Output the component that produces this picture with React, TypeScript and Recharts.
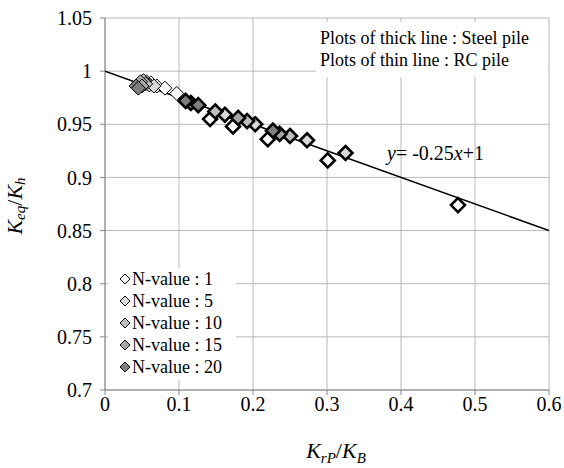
import React from 'react';
import { ScatterChart, Scatter, XAxis, YAxis, CartesianGrid } from 'recharts';

// x = KrP/KB, y = Keq/Kh ; thick outline = steel pile, thin outline = RC pile
const steelN1 = [
  { x: 0.142, y: 0.955 }, { x: 0.173, y: 0.948 }, { x: 0.22, y: 0.936 },
  { x: 0.301, y: 0.916 }, { x: 0.477, y: 0.874 },
];
const steelN5 = [
  { x: 0.162, y: 0.959 }, { x: 0.203, y: 0.95 }, { x: 0.273, y: 0.935 }, { x: 0.325, y: 0.923 },
];
const steelN10 = [{ x: 0.149, y: 0.962 }, { x: 0.192, y: 0.953 }, { x: 0.25, y: 0.939 }];
const steelN15 = [{ x: 0.116, y: 0.97 }, { x: 0.18, y: 0.956 }, { x: 0.236, y: 0.941 }];
const steelN20 = [{ x: 0.109, y: 0.972 }, { x: 0.126, y: 0.968 }, { x: 0.227, y: 0.944 }];

const rcN1 = [{ x: 0.062, y: 0.989 }, { x: 0.07, y: 0.986 }, { x: 0.081, y: 0.984 }, { x: 0.097, y: 0.979 }];
const rcN5 = [{ x: 0.056, y: 0.99 }, { x: 0.06, y: 0.987 }, { x: 0.066, y: 0.986 }];
const rcN10 = [{ x: 0.052, y: 0.991 }, { x: 0.055, y: 0.988 }];
const rcN15 = [{ x: 0.048, y: 0.99 }, { x: 0.05, y: 0.986 }];
const rcN20 = [{ x: 0.042, y: 0.986 }, { x: 0.045, y: 0.984 }];

// y = -0.25x + 1
const trendLine = [{ x: 0, y: 1 }, { x: 0.6, y: 0.85 }];

const seriesNames = ['N-value : 1', 'N-value : 5', 'N-value : 10', 'N-value : 15', 'N-value : 20'];
const seriesFills = ['#ffffff', '#d9d9d9', '#bfbfbf', '#a6a6a6', '#7f7f7f'];
const steelData = [steelN1, steelN5, steelN10, steelN15, steelN20];
const rcData = [rcN1, rcN5, rcN10, rcN15, rcN20];

const xTicks = [0, 0.1, 0.2, 0.3, 0.4, 0.5, 0.6];
const yTicks = [0.7, 0.75, 0.8, 0.85, 0.9, 0.95, 1, 1.05];

const FONT = '"Liberation Serif", "Times New Roman", serif';

const Diamond = ({ cx, cy, fill, w }: any) => {
  const r = 7;
  return (
    <path
      d={`M${cx},${cy - r}L${cx + r},${cy}L${cx},${cy + r}L${cx - r},${cy}Z`}
      fill={fill}
      stroke="#000"
      strokeWidth={w}
    />
  );
};

const LegendBox = () => (
  <div
    style={{
      position: 'absolute',
      left: 108,
      top: 268,
      width: 128,
      height: 112,
      background: '#fff',
      fontFamily: FONT,
      fontSize: 18,
      color: '#000',
    }}
  >
    {seriesNames.map((name, i) => (
      <div key={name} style={{ height: 22, lineHeight: '22px', display: 'flex', alignItems: 'center' }}>
        <svg width={24} height={22} style={{ flex: 'none' }}>
          <path d="M17,6L22,11L17,16L12,11Z" fill={seriesFills[i]} stroke="#000" strokeWidth={1} />
        </svg>
        <span>{name}</span>
      </div>
    ))}
  </div>
);

const YLabel = () => (
  <text
    x={17}
    y={206}
    transform="rotate(-90 17 206)"
    textAnchor="middle"
    dominantBaseline="middle"
    fontFamily={FONT}
    fontSize={22}
    fill="#000"
  >
    <tspan fontStyle="italic">K</tspan>
    <tspan fontStyle="italic" fontSize={15} dy={5}>eq</tspan>
    <tspan dy={-5}>/</tspan>
    <tspan fontStyle="italic">K</tspan>
    <tspan fontStyle="italic" fontSize={15} dy={5}>h</tspan>
  </text>
);

const XLabel = () => (
  <text x={336} y={458} textAnchor="middle" fontFamily={FONT} fontSize={22} fill="#000">
    <tspan fontStyle="italic">K</tspan>
    <tspan fontStyle="italic" fontSize={15} dy={5}>rP</tspan>
    <tspan dy={-5}>/</tspan>
    <tspan fontStyle="italic">K</tspan>
    <tspan fontStyle="italic" fontSize={15} dy={5}>B</tspan>
  </text>
);

export default function App() {
  const tickStyle = { fontFamily: FONT, fontSize: 20, fill: '#000' };
  return (
    <div style={{ position: 'relative', width: 564, height: 468, background: '#fff' }}>
      <style>{'body{margin:0}'}</style>
      <ScatterChart width={564} height={468} margin={{ top: 18, right: 15, bottom: 0, left: 0 }}>
        <CartesianGrid stroke="#b8b8b8" strokeWidth={1} horizontalValues={yTicks} verticalValues={xTicks} />
        <XAxis
          type="number"
          dataKey="x"
          domain={[0, 0.6]}
          ticks={xTicks}
          height={78}
          stroke="#868686"
          tickSize={5}
          tickMargin={2}
          tick={tickStyle}
          tickFormatter={(v: number) => String(v)}
          label={{ content: () => <XLabel /> }}
          allowDataOverflow
        />
        <YAxis
          type="number"
          dataKey="y"
          domain={[0.7, 1.05]}
          ticks={yTicks}
          width={105}
          stroke="#868686"
          tickSize={5}
          tickMargin={8}
          tick={tickStyle}
          tickFormatter={(v: number) => String(v)}
          label={{ content: () => <YLabel /> }}
          allowDataOverflow
        />
        <Scatter
          data={trendLine}
          line={{ stroke: '#000', strokeWidth: 1.5 }}
          shape={() => <g />}
          legendType="none"
          isAnimationActive={false}
        />
        {rcData.map((d, i) => (
          <Scatter
            key={`rc-${i}`}
            data={d}
            legendType="none"
            isAnimationActive={false}
            shape={(p: any) => <Diamond cx={p.cx} cy={p.cy} fill={seriesFills[i]} w={1} />}
          />
        ))}
        {steelData.map((d, i) => (
          <Scatter
            key={`steel-${i}`}
            name={seriesNames[i]}
            data={d}
            isAnimationActive={false}
            shape={(p: any) => <Diamond cx={p.cx} cy={p.cy} fill={seriesFills[i]} w={2.6} />}
          />
        ))}
      </ScatterChart>
      <LegendBox />
      <div
        style={{
          position: 'absolute',
          left: 316,
          top: 22,
          width: 232,
          height: 55,
          background: '#fff',
          fontFamily: FONT,
          fontSize: 18,
          lineHeight: '22px',
          color: '#000',
          paddingTop: 5,
          paddingLeft: 4,
          boxSizing: 'border-box',
          whiteSpace: 'nowrap',
        }}
      >
        <div>Plots of thick line : Steel pile</div>
        <div>Plots of thin line : RC pile</div>
      </div>
      <div
        style={{
          position: 'absolute',
          left: 387,
          top: 143,
          fontFamily: FONT,
          fontSize: 20,
          lineHeight: '20px',
          color: '#000',
          whiteSpace: 'nowrap',
        }}
      >
        <i>y</i>= -0.25<i>x</i>+1
      </div>
    </div>
  );
}
